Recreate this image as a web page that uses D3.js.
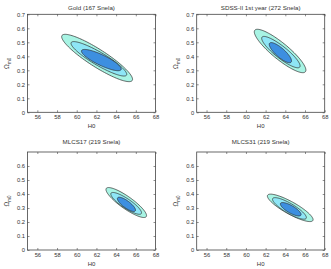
<!DOCTYPE html>
<html>
<head>
<meta charset="utf-8">
<script src="https://cdn.jsdelivr.net/npm/d3@7"></script>
<style>
body { margin: 0; background: #fff; }
text { font-family: "Liberation Sans", Arial, sans-serif; fill: #333; }
</style>
</head>
<body>
<div id="chart"></div>
<script>
let W = 331, H = 269;

let titles = ["Gold (167 Snela)", "SDSS-II 1st year (272 Snela)", "MLCS17 (219 Snela)", "MLCS31 (219 Snela)"];
let xTicks = [56, 58, 60, 62, 64, 66, 68];
let yTicksTop = [0, 0.1, 0.2, 0.3, 0.4, 0.5, 0.6, 0.7];
let yTicksBottom = [0, 0.1, 0.2, 0.3, 0.4, 0.5, 0.6];

// each contour: [H0 centre, Om centre, H0 half-extent, Om half-extent, correlation]
// order: outer, middle, inner
let goldContours = [
    [62.07, 0.388, 3.60, 0.169, -0.90],
    [62.25, 0.382, 2.83, 0.123, -0.90],
    [62.50, 0.373, 2.02, 0.076, -0.84]
];
let sdssContours = [
    [63.47, 0.438, 2.62, 0.155, -0.88],
    [63.55, 0.430, 1.95, 0.112, -0.88],
    [63.50, 0.426, 1.13, 0.072, -0.82]
];
let mlcs17Contours = [
    [65.03, 0.339, 2.06, 0.107, -0.87],
    [65.02, 0.333, 1.56, 0.078, -0.86],
    [65.05, 0.326, 0.92, 0.051, -0.80]
];
let mlcs31Contours = [
    [64.50, 0.301, 2.32, 0.098, -0.86],
    [64.42, 0.297, 1.72, 0.077, -0.85],
    [64.55, 0.291, 1.05, 0.048, -0.78]
];

let contourSets = [goldContours, sdssContours, mlcs17Contours, mlcs31Contours];
let fills = ["#a8f4e4", "#8ee6f6", "#3d8fe0"];

let panelLeft = [27.5, 196.7];
let panelTop = [14.3, 152];
let pw = 128, ph = 98;

let svg = d3.select("#chart").append("svg")
    .attr("width", W)
    .attr("height", H);

function ellipsePoints(c, x, y) {
    let pts = [];
    let n = 120;
    let k = Math.sqrt(1 - c[4] * c[4]);
    for (let i = 0; i < n; i++) {
        let t = 2 * Math.PI * i / n;
        let h = c[0] + c[2] * Math.cos(t);
        let o = c[1] + c[3] * (c[4] * Math.cos(t) + k * Math.sin(t));
        pts.push([x(h), y(o)]);
    }
    return pts;
}

for (let p = 0; p < 4; p++) {
    let col = p % 2, row = Math.floor(p / 2);
    let g = svg.append("g")
        .attr("transform", "translate(" + panelLeft[col] + "," + panelTop[row] + ")");

    let x = d3.scaleLinear().domain([55, 68]).range([0, pw]);
    let y = d3.scaleLinear().domain([0, 0.7]).range([ph, 0]);
    let yTicks = row == 0 ? yTicksTop : yTicksBottom;

    let line = d3.line().curve(d3.curveLinearClosed);
    contourSets[p].forEach(function (c, i) {
        g.append("path")
            .attr("d", line(ellipsePoints(c, x, y)))
            .attr("fill", fills[i])
            .attr("stroke", "#2a2a2a")
            .attr("stroke-width", 0.7);
    });

    let fmtY = d3.format(".1f");
    let bx = g.append("g").attr("transform", "translate(0," + ph + ")")
        .call(d3.axisBottom(x).tickValues(xTicks).tickSizeInner(-2).tickSizeOuter(0).tickPadding(2.5));
    let tx = g.append("g")
        .call(d3.axisTop(x).tickValues(xTicks).tickSizeInner(-2).tickSizeOuter(0).tickFormat(""));
    let ly = g.append("g")
        .call(d3.axisLeft(y).tickValues(yTicks).tickSizeInner(-2).tickSizeOuter(0).tickPadding(2.5)
            .tickFormat(function (d) { return d == 0 ? "0" : fmtY(d); }));
    let ry = g.append("g").attr("transform", "translate(" + pw + ",0)")
        .call(d3.axisRight(y).tickValues(yTicks).tickSizeInner(-2).tickSizeOuter(0).tickFormat(""));

    [bx, tx, ly, ry].forEach(function (a) {
        a.select(".domain").remove();
        a.selectAll(".tick line").attr("stroke", "#444").attr("stroke-width", 0.6);
        a.selectAll(".tick text").attr("font-size", 5.8).attr("fill", "#333")
            .attr("font-family", "'Liberation Sans', Arial, sans-serif");
    });

    g.append("rect")
        .attr("width", pw).attr("height", ph)
        .attr("fill", "none")
        .attr("stroke", "#444")
        .attr("stroke-width", 0.8);

    g.append("text")
        .attr("x", pw / 2)
        .attr("y", row == 0 ? -4.8 : -8.5)
        .attr("text-anchor", "middle")
        .attr("font-size", 6.2)
        .text(titles[p]);

    g.append("text")
        .attr("x", pw / 2)
        .attr("y", ph + 16)
        .attr("text-anchor", "middle")
        .attr("font-size", 6)
        .text("H0");

    let yl = g.append("text")
        .attr("transform", "translate(-18.5," + (ph / 2) + ") rotate(-90)")
        .attr("text-anchor", "middle")
        .attr("font-size", 6.4);
    yl.append("tspan").text("Ω");
    yl.append("tspan").attr("font-size", 4.6).attr("dy", 1.6).text("m0");
}
</script>
</body>
</html>
